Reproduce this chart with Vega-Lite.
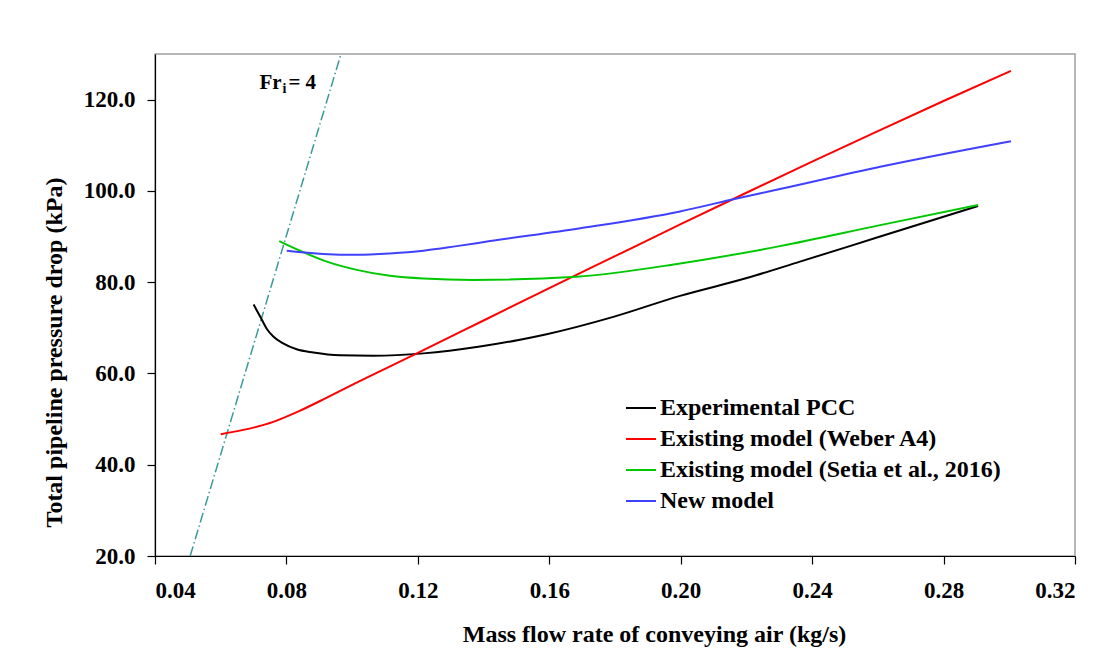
{
  "$schema": "https://vega.github.io/schema/vega-lite/v6.json",
  "width": 920,
  "height": 502,
  "autosize": {"type": "none"},
  "padding": {"left": 155, "top": 54, "right": 40, "bottom": 106},
  "background": "white",
  "config": {
    "font": "Liberation Serif",
    "view": {"stroke": "#A0A0A0", "strokeWidth": 1.5},
    "axis": {
      "grid": false,
      "domainColor": "black",
      "domainWidth": 1.2,
      "tickColor": "black",
      "tickSize": 8,
      "tickWidth": 1.2,
      "labelFont": "Liberation Serif",
      "labelFontWeight": "bold",
      "labelFontSize": 23,
      "labelColor": "black",
      "titleFont": "Liberation Serif",
      "titleFontWeight": "bold",
      "titleFontSize": 24,
      "titleColor": "black"
    }
  },
  "datasets": {
    "curves": [
      {"series": "Experimental PCC", "x": 0.0700, "y": 75.1},
      {"series": "Experimental PCC", "x": 0.0720, "y": 72.5},
      {"series": "Experimental PCC", "x": 0.0740, "y": 69.8},
      {"series": "Experimental PCC", "x": 0.0760, "y": 68.1},
      {"series": "Experimental PCC", "x": 0.0790, "y": 66.6},
      {"series": "Experimental PCC", "x": 0.0831, "y": 65.3},
      {"series": "Experimental PCC", "x": 0.0882, "y": 64.6},
      {"series": "Experimental PCC", "x": 0.0963, "y": 64.0},
      {"series": "Experimental PCC", "x": 0.1064, "y": 63.9},
      {"series": "Experimental PCC", "x": 0.1217, "y": 64.4},
      {"series": "Experimental PCC", "x": 0.1389, "y": 65.9},
      {"series": "Experimental PCC", "x": 0.1511, "y": 67.4},
      {"series": "Experimental PCC", "x": 0.1592, "y": 68.6},
      {"series": "Experimental PCC", "x": 0.1795, "y": 72.4},
      {"series": "Experimental PCC", "x": 0.1998, "y": 77.0},
      {"series": "Experimental PCC", "x": 0.2201, "y": 80.9},
      {"series": "Experimental PCC", "x": 0.2363, "y": 84.5},
      {"series": "Experimental PCC", "x": 0.2607, "y": 90.0},
      {"series": "Experimental PCC", "x": 0.2905, "y": 96.7},
      {"series": "Existing model (Weber A4)", "x": 0.060, "y": 46.7},
      {"series": "Existing model (Weber A4)", "x": 0.068, "y": 47.8},
      {"series": "Existing model (Weber A4)", "x": 0.076, "y": 49.4},
      {"series": "Existing model (Weber A4)", "x": 0.084, "y": 51.8},
      {"series": "Existing model (Weber A4)", "x": 0.092, "y": 54.6},
      {"series": "Existing model (Weber A4)", "x": 0.100, "y": 57.5},
      {"series": "Existing model (Weber A4)", "x": 0.120, "y": 64.5},
      {"series": "Existing model (Weber A4)", "x": 0.140, "y": 71.6},
      {"series": "Existing model (Weber A4)", "x": 0.160, "y": 78.7},
      {"series": "Existing model (Weber A4)", "x": 0.180, "y": 85.7},
      {"series": "Existing model (Weber A4)", "x": 0.200, "y": 92.7},
      {"series": "Existing model (Weber A4)", "x": 0.220, "y": 99.6},
      {"series": "Existing model (Weber A4)", "x": 0.240, "y": 106.4},
      {"series": "Existing model (Weber A4)", "x": 0.260, "y": 113.1},
      {"series": "Existing model (Weber A4)", "x": 0.280, "y": 119.7},
      {"series": "Existing model (Weber A4)", "x": 0.3005, "y": 126.3},
      {"series": "Existing model (Setia et al., 2016)", "x": 0.0778, "y": 89.0},
      {"series": "Existing model (Setia et al., 2016)", "x": 0.0841, "y": 86.9},
      {"series": "Existing model (Setia et al., 2016)", "x": 0.0923, "y": 84.5},
      {"series": "Existing model (Setia et al., 2016)", "x": 0.1014, "y": 82.7},
      {"series": "Existing model (Setia et al., 2016)", "x": 0.1115, "y": 81.4},
      {"series": "Existing model (Setia et al., 2016)", "x": 0.1217, "y": 80.8},
      {"series": "Existing model (Setia et al., 2016)", "x": 0.1369, "y": 80.5},
      {"series": "Existing model (Setia et al., 2016)", "x": 0.1683, "y": 81.2},
      {"series": "Existing model (Setia et al., 2016)", "x": 0.1998, "y": 84.1},
      {"series": "Existing model (Setia et al., 2016)", "x": 0.2302, "y": 87.9},
      {"series": "Existing model (Setia et al., 2016)", "x": 0.2607, "y": 92.5},
      {"series": "Existing model (Setia et al., 2016)", "x": 0.2905, "y": 96.9},
      {"series": "New model", "x": 0.0801, "y": 86.9},
      {"series": "New model", "x": 0.0912, "y": 86.2},
      {"series": "New model", "x": 0.1014, "y": 86.0},
      {"series": "New model", "x": 0.1115, "y": 86.3},
      {"series": "New model", "x": 0.1217, "y": 86.9},
      {"series": "New model", "x": 0.1318, "y": 87.9},
      {"series": "New model", "x": 0.1420, "y": 89.0},
      {"series": "New model", "x": 0.1694, "y": 91.8},
      {"series": "New model", "x": 0.1998, "y": 95.5},
      {"series": "New model", "x": 0.2150, "y": 98.0},
      {"series": "New model", "x": 0.2302, "y": 100.4},
      {"series": "New model", "x": 0.2607, "y": 105.3},
      {"series": "New model", "x": 0.3005, "y": 110.9}
    ],
    "froude": [
      {"x": 0.0507, "y": 20},
      {"x": 0.0966, "y": 130}
    ],
    "frMain": [
      {"t": "Fr", "x": 0.0718, "y": 122.3},
      {"t": "= 4", "x": 0.0806, "y": 122.3}
    ],
    "frSub": [
      {"t": "i", "x": 0.0788, "y": 121.4}
    ]
  },
  "layer": [
    {
      "data": {"name": "froude"},
      "mark": {"type": "line", "color": "#3A9A9A", "strokeWidth": 1.5, "strokeDash": [10, 3, 1.5, 3], "clip": true},
      "encoding": {
        "x": {"field": "x", "type": "quantitative"},
        "y": {"field": "y", "type": "quantitative"}
      }
    },
    {
      "data": {"name": "curves"},
      "mark": {"type": "line", "strokeWidth": 2, "interpolate": "monotone"},
      "encoding": {
        "x": {
          "field": "x", "type": "quantitative",
          "scale": {"domain": [0.04, 0.32], "nice": false, "zero": false},
          "axis": {
            "values": [0.04, 0.08, 0.12, 0.16, 0.2, 0.24, 0.28, 0.32],
            "format": ".2f",
            "labelPadding": 15,
            "title": "Mass flow rate of conveying air (kg/s)",
            "titlePadding": 20,
            "titleX": 499
          }
        },
        "y": {
          "field": "y", "type": "quantitative",
          "scale": {"domain": [20, 130], "nice": false, "zero": false},
          "axis": {
            "values": [20, 40, 60, 80, 100, 120],
            "format": ".1f",
            "labelPadding": 12,
            "title": "Total pipeline pressure drop (kPa)",
            "titlePadding": 17,
            "titleY": 298
          }
        },
        "color": {
          "field": "series", "type": "nominal",
          "sort": ["Experimental PCC", "Existing model (Weber A4)", "Existing model (Setia et al., 2016)", "New model"],
          "scale": {
            "domain": ["Experimental PCC", "Existing model (Weber A4)", "Existing model (Setia et al., 2016)", "New model"],
            "range": ["#000000", "#FF0000", "#00C800", "#4040FF"]
          },
          "legend": {
            "title": null,
            "orient": "none",
            "legendX": 470,
            "legendY": 338,
            "padding": 0,
            "symbolType": "stroke",
            "symbolSize": 900,
            "symbolStrokeWidth": 2,
            "labelFont": "Liberation Serif",
            "labelFontWeight": "bold",
            "labelFontSize": 24,
            "labelColor": "black",
            "labelOffset": 3,
            "rowPadding": 3,
            "labelLimit": 500
          }
        }
      }
    },
    {
      "data": {"name": "frMain"},
      "mark": {"type": "text", "align": "left", "baseline": "alphabetic", "font": "Liberation Serif", "fontWeight": "bold", "fontSize": 21, "color": "black"},
      "encoding": {
        "x": {"field": "x", "type": "quantitative"},
        "y": {"field": "y", "type": "quantitative"},
        "text": {"field": "t"}
      }
    },
    {
      "data": {"name": "frSub"},
      "mark": {"type": "text", "align": "left", "baseline": "alphabetic", "font": "Liberation Serif", "fontWeight": "bold", "fontSize": 14, "color": "black"},
      "encoding": {
        "x": {"field": "x", "type": "quantitative"},
        "y": {"field": "y", "type": "quantitative"},
        "text": {"field": "t"}
      }
    }
  ]
}
